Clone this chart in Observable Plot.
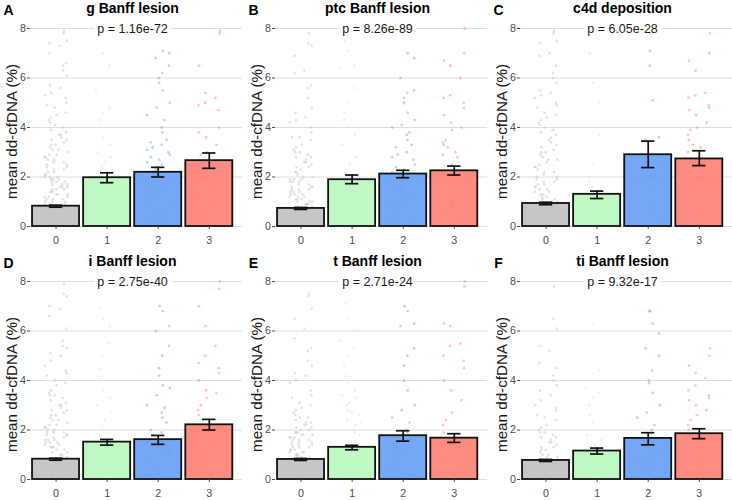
<!DOCTYPE html>
<html><head><meta charset="utf-8">
<script src="https://cdn.jsdelivr.net/npm/d3@7"></script>
<script src="https://cdn.jsdelivr.net/npm/@observablehq/plot@0.6"></script>
<style>
body{margin:0;background:#fff;font-family:"Liberation Sans",Arial,Helvetica,sans-serif;}
#root{position:relative;width:732px;height:500px;overflow:hidden;background:#fff;}
.panel{position:absolute;}
</style></head><body><div id="root"></div>
<script>
const categories = ["0","1","2","3"];
const panelLetters = ["A","B","C","D","E","F"];
const panelTitles = ["g Banff lesion","ptc Banff lesion","c4d deposition","i Banff lesion","t Banff lesion","ti Banff lesion"];
const pLabels = ["p = 1.16e-72","p = 8.26e-89","p = 6.05e-28","p = 2.75e-40","p = 2.71e-24","p = 9.32e-17"];
const yTicks = [0,2,4,6,8];
const yTitle = "mean dd-cfDNA (%)";
const barColors = ["#bcbcbc","#b5f7ba","#5c99f4","#fd7769"];

// g Banff lesion
const gMean = [0.82,1.97,2.19,2.66];
const gLow  = [0.78,1.77,2.00,2.35];
const gHigh = [0.86,2.17,2.39,2.97];
const gPoints = [
  [7.9,7.8,7.5,7.4,7.3,7.0,6.6,6.5,6.3,6.1,5.7,5.6,5.4,5.3,5.2,5.0,4.9,4.8,4.6,4.5,4.4,4.3,4.2,4.1,4.0,3.9,3.8,3.7,3.7,3.6,3.5,3.5,3.4,3.3,3.3,3.2,3.1,3.1,3.0,2.9,2.9,2.8,2.8,2.7,2.7,2.6,2.6,2.5,2.5,2.4,2.4,2.3,2.3,2.2,2.2,2.1,2.1,2.0,2.0,2.0,1.9,1.9,1.9,1.8,1.8,1.8,1.7,1.7,1.7,1.6,1.6,1.6,1.5,1.5,1.5,1.4,1.4,1.4,1.3,1.3,1.3,1.2,1.2,1.2,1.1,1.1,1.1,1.0,1.0,1.0,0.9,0.9,0.9,0.8,0.8,0.7,0.7,0.6,0.5,0.4,0.3,0.2,0.1],
  [7.8,7.7,7.0,6.5,5.5,4.8,4.6,4.3,4.0,3.6,3.3,3.0,2.8,2.6,2.4,2.3,2.2,2.1,1.8,1.5,1.2,0.9,0.6,0.3],
  [7.9,7.8,7.1,7.0,6.8,6.5,6.2,6.0,5.8,5.5,5.0,4.8,4.5,4.3,4.0,3.8,3.5,3.4,3.3,3.2,3.1,3.0,2.9,2.8,2.7,2.6,2.5,2.4,2.3,2.2,2.0,1.8,1.6,1.4,1.2,1.0,0.8,0.6,0.4,0.2],
  [7.9,7.8,6.5,5.4,5.2,5.0,4.9,4.7,4.0,3.8,3.6,3.3,3.0,2.9,2.5,2.2,1.9,1.6,1.3,1.0,0.7,0.4,0.2]
];

// ptc Banff lesion
const ptcMean = [0.73,1.89,2.12,2.25];
const ptcLow  = [0.69,1.73,1.97,2.08];
const ptcHigh = [0.77,2.08,2.27,2.44];
const ptcPoints = [
  [7.8,7.4,7.3,6.9,6.3,6.2,5.7,5.6,5.2,4.8,4.6,4.4,4.3,4.2,4.0,3.8,3.6,3.6,3.5,3.3,3.2,3.1,3.0,3.0,2.9,2.8,2.8,2.7,2.6,2.6,2.5,2.4,2.4,2.3,2.2,2.2,2.1,2.0,2.0,1.9,1.9,1.9,1.8,1.8,1.8,1.7,1.7,1.6,1.6,1.6,1.5,1.5,1.5,1.4,1.4,1.4,1.3,1.3,1.3,1.2,1.2,1.2,1.1,1.1,1.1,1.0,1.0,1.0,0.9,0.9,0.9,0.8,0.8,0.7,0.6,0.5,0.4,0.3,0.2,0.1],
  [7.9,7.5,7.1,6.5,6.4,5.6,5.0,4.6,4.3,4.0,3.7,3.3,2.8,2.5,2.2,2.0,1.7,1.4,1.1,0.8,0.5,0.2],
  [7.8,7.7,7.0,6.8,6.0,5.5,5.4,5.2,5.0,4.6,4.3,4.1,4.0,3.8,3.7,3.5,3.3,3.2,3.0,2.9,2.8,2.7,2.5,2.4,2.3,2.2,2.0,1.8,1.6,1.4,1.2,1.0,0.8,0.6,0.4,0.2],
  [8.0,7.0,6.7,6.5,6.0,5.3,5.2,5.0,4.8,4.5,4.2,4.0,3.9,3.5,3.4,3.3,3.2,3.0,2.9,2.8,2.5,2.1,1.8,1.5,1.2,0.9,0.6,0.3]
];

// c4d deposition
const c4dMean = [0.93,1.30,2.90,2.73];
const c4dLow  = [0.88,1.13,2.38,2.46];
const c4dHigh = [0.98,1.43,3.45,3.06];
const c4dPoints = [
  [7.9,7.8,7.5,7.4,7.0,6.9,6.5,6.2,6.0,5.8,5.5,5.4,5.3,5.2,5.0,4.9,4.8,4.6,4.5,4.4,4.3,4.2,4.1,4.0,3.9,3.8,3.7,3.6,3.5,3.4,3.3,3.2,3.1,3.0,3.0,2.9,2.8,2.7,2.7,2.6,2.5,2.4,2.4,2.3,2.2,2.2,2.1,2.0,2.0,1.9,1.9,1.8,1.8,1.7,1.7,1.6,1.6,1.5,1.5,1.4,1.4,1.3,1.3,1.2,1.2,1.1,1.1,1.0,1.0,0.9,0.8,0.6,0.4,0.2],
  [7.8,7.0,5.8,5.0,4.0,3.7,2.5,2.0,1.8,1.6,1.5,1.2,0.9,0.6,0.3],
  [7.1,6.5,5.1,3.6,3.5,2.5,2.0,1.5,1.0,0.6,0.3],
  [7.8,7.0,6.7,6.3,5.4,5.3,5.2,4.9,4.8,4.7,4.5,4.2,4.0,3.9,3.7,3.5,3.3,3.2,3.0,2.5,2.0,1.5,1.0,0.5]
];

// i Banff lesion
const iMean = [0.82,1.51,1.61,2.21];
const iLow  = [0.78,1.39,1.42,2.00];
const iHigh = [0.86,1.62,1.78,2.43];
const iPoints = [
  [7.9,7.5,7.4,7.0,6.9,6.6,6.1,5.6,5.4,5.3,5.1,5.0,4.8,4.6,4.4,4.3,4.2,4.0,3.9,3.8,3.6,3.5,3.4,3.4,3.3,3.2,3.1,3.0,3.0,2.9,2.8,2.8,2.7,2.6,2.6,2.5,2.4,2.4,2.3,2.2,2.2,2.1,2.1,2.0,2.0,1.9,1.9,1.9,1.8,1.8,1.8,1.7,1.7,1.6,1.6,1.6,1.5,1.5,1.5,1.4,1.4,1.3,1.3,1.3,1.2,1.2,1.1,1.1,1.0,1.0,0.9,0.9,0.8,0.6,0.4,0.2],
  [7.6,6.9,6.5,6.2,5.8,5.5,5.0,4.5,4.0,3.6,3.3,3.0,2.7,2.4,2.2,2.0,1.9,1.8,1.6,1.3,1.0,0.7,0.4,0.2],
  [7.8,7.0,6.8,6.2,6.0,5.4,5.0,4.5,4.2,3.8,3.7,3.4,3.0,2.9,2.7,2.5,2.3,2.0,1.9,1.8,1.5,1.2,1.0,0.7,0.4,0.2],
  [8.0,7.7,7.0,6.2,5.4,5.0,4.7,4.5,4.3,4.0,3.6,3.5,3.3,3.0,2.8,2.6,2.4,2.0,1.7,1.4,1.1,0.8,0.5,0.2]
];

// t Banff lesion
const tMean = [0.81,1.30,1.77,1.67];
const tLow  = [0.77,1.20,1.55,1.50];
const tHigh = [0.85,1.38,1.97,1.85];
const tPoints = [
  [7.5,7.4,6.9,6.5,6.1,5.7,5.3,5.2,4.8,4.6,4.3,4.2,4.0,3.9,3.6,3.4,3.3,3.1,3.0,2.9,2.8,2.7,2.6,2.5,2.5,2.4,2.3,2.3,2.2,2.2,2.1,2.1,2.0,2.0,1.9,1.9,1.9,1.8,1.8,1.8,1.7,1.7,1.7,1.6,1.6,1.6,1.5,1.5,1.5,1.4,1.4,1.4,1.3,1.3,1.3,1.2,1.2,1.2,1.1,1.1,1.1,1.0,1.0,1.0,0.9,0.9,0.9,0.8,0.6,0.4,0.2],
  [7.6,7.1,6.5,6.0,5.6,5.3,5.0,4.6,4.2,3.9,3.6,3.4,3.3,3.1,3.0,2.8,2.7,2.6,2.4,2.3,2.2,2.0,1.9,1.8,1.6,1.5,1.4,1.1,0.8,0.5,0.2],
  [7.9,7.0,6.8,6.3,6.2,5.3,5.0,4.6,4.0,3.6,3.0,2.8,2.5,2.3,2.0,1.9,1.6,1.3,1.0,0.7,0.4,0.2],
  [8.0,7.8,6.3,6.2,5.5,5.4,5.0,4.8,4.5,4.0,3.6,3.2,2.7,2.4,2.2,1.9,1.5,1.2,0.9,0.6,0.3]
];

// ti Banff lesion
const tiMean = [0.77,1.15,1.66,1.85];
const tiLow  = [0.73,1.03,1.40,1.65];
const tiHigh = [0.81,1.27,1.89,2.05];
const tiPoints = [
  [7.8,6.5,6.1,5.4,5.2,4.7,4.5,4.2,4.0,3.8,3.6,3.4,3.2,3.0,2.9,2.8,2.6,2.5,2.4,2.2,2.1,2.0,1.9,1.9,1.8,1.7,1.7,1.6,1.5,1.5,1.4,1.3,1.3,1.2,1.2,1.1,1.0,1.0,0.9,0.9,0.8,0.6,0.5,0.4,0.3,0.2,0.1],
  [7.8,7.6,6.3,4.4,3.7,3.5,3.3,3.0,2.6,2.3,2.0,1.8,1.6,1.4,1.0,0.7,0.4,0.2],
  [6.8,6.8,6.3,5.9,5.3,5.0,4.4,4.0,3.9,3.5,3.0,2.7,2.5,2.2,2.0,1.5,1.2,0.9,0.6,0.3],
  [5.3,5.0,4.6,4.3,4.1,3.8,3.6,3.4,3.3,3.2,3.0,2.8,2.6,2.4,2.2,2.0,1.6,1.3,1.0,0.7,0.4]
];

const panels = [
  [gMean,gLow,gHigh,gPoints],
  [ptcMean,ptcLow,ptcHigh,ptcPoints],
  [c4dMean,c4dLow,c4dHigh,c4dPoints],
  [iMean,iLow,iHigh,iPoints],
  [tMean,tLow,tHigh,tPoints],
  [tiMean,tiLow,tiHigh,tiPoints]
];

const FONT = '"Liberation Sans", Arial, Helvetica, sans-serif';

// deterministic horizontal spread of the observations within a category
function spread(j, ci) {
  const a = ((j + 1) * 0.6180339887 + ci * 0.37) % 1;
  const b = ((j + 3) * (j + 1) * 0.0731) % 1;
  return ((a + b) % 1) - 0.5;
}

function makePanel(k) {
  const [means, lows, highs, pts] = panels[k];
  const bars = categories.map((c, i) => ({i, c, mean: means[i], lo: lows[i], hi: highs[i]}));
  const dots = pts.flatMap((arr, ci) => arr.map((v, j) => ({
    c: categories[ci],
    x: ci + spread(j, ci) * 0.46,
    y: v
  })));
  return Plot.plot({
    width: 242, height: 250,
    marginLeft: 30, marginRight: 0, marginTop: 28, marginBottom: 24,
    x: {domain: [-0.5, 3.65], axis: null},
    y: {domain: [0, 8], axis: null},
    color: {domain: categories, range: barColors},
    style: {fontFamily: FONT, background: "transparent", overflow: "visible"},
    marks: [
      Plot.gridY(yTicks, {stroke: "#dadada", strokeOpacity: 1, strokeWidth: 0.9}),
      Plot.dot(dots, {x: "x", y: "y", r: 1.4, fill: "c", fillOpacity: 0.42, stroke: null}),
      Plot.rectY(bars, {x1: d => d.i - 0.46, x2: d => d.i + 0.46, y1: 0, y2: "mean", fill: "c", fillOpacity: 0.85, stroke: "#111", strokeWidth: 1.8}),
      Plot.ruleX(bars, {x: "i", y1: "lo", y2: "hi", stroke: "#111", strokeWidth: 1.7}),
      Plot.ruleY(bars, {y: "lo", x1: d => d.i - 0.13, x2: d => d.i + 0.13, stroke: "#111", strokeWidth: 1.7}),
      Plot.ruleY(bars, {y: "hi", x1: d => d.i - 0.13, x2: d => d.i + 0.13, stroke: "#111", strokeWidth: 1.7}),
      Plot.axisY(yTicks, {tickSize: 3, tickPadding: 1.5, fontSize: 10.7, color: "#4d4d4d", label: null}),
      Plot.axisX([0,1,2,3], {tickSize: 3, tickPadding: 7, fontSize: 10.7, color: "#4d4d4d", tickFormat: i => categories[i], label: null}),
      Plot.text([yTitle], {frameAnchor: "left", rotate: -90, dx: -18.5, dy: 4, fontSize: 15.2, fill: "#1a1a1a", textAnchor: "middle", lineAnchor: "middle"}),
      Plot.text([pLabels[k]], {frameAnchor: "top", dx: -4, lineAnchor: "middle", fontSize: 12.5, fill: "#1a1a1a", stroke: "white", strokeWidth: 8}),
      Plot.text([panelTitles[k]], {frameAnchor: "top", dx: -4, dy: -20, lineAnchor: "middle", fontSize: 14, fontWeight: "bold", fill: "#000"}),
      Plot.text([panelLetters[k]], {frameAnchor: "top-left", dx: -22, dy: -18, lineAnchor: "middle", textAnchor: "middle", fontSize: 14, fontWeight: "bold", fill: "#000"})
    ]
  });
}

const root = document.getElementById("root");
const lefts = [0, 245, 490];
const tops = [0, 253];
for (let k = 0; k < 6; k++) {
  const div = document.createElement("div");
  div.className = "panel";
  div.style.left = lefts[k % 3] + "px";
  div.style.top = tops[Math.floor(k / 3)] + "px";
  div.appendChild(makePanel(k));
  root.appendChild(div);
}
</script>
</body></html>
